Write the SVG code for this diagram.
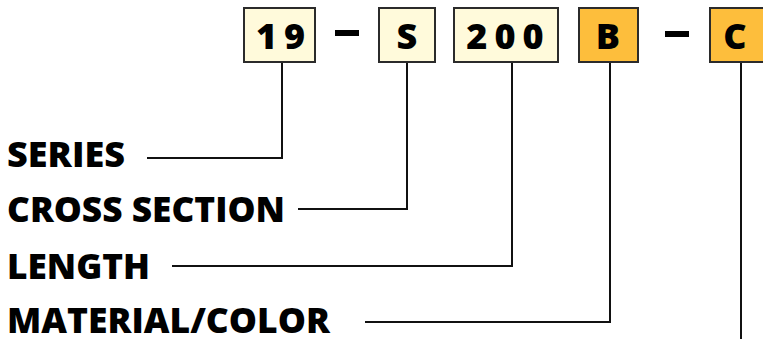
<svg xmlns="http://www.w3.org/2000/svg" width="763" height="339" viewBox="0 0 763 339">
<style>
.box{stroke:#2b2b2b;stroke-width:2}
.cream{fill:#FFFADB}
.orange{fill:#FDBE3C}
.bt{font-family:"Open Sans","DejaVu Sans",sans-serif;font-weight:800;font-size:36px;fill:#000;text-anchor:middle}
.lbl{font-family:"Open Sans","DejaVu Sans",sans-serif;font-weight:800;font-size:35px;fill:#000}
.ln{fill:none;stroke:#111;stroke-width:2}
.dash{fill:#000}
</style>
<rect width="763" height="339" fill="#fff"/>
<g id="connectors">
<polyline class="ln" points="282,62 282,158 147,158"/>
<polyline class="ln" points="407,62 407,209 298,209"/>
<polyline class="ln" points="512,62 512,266 172,266"/>
<polyline class="ln" points="610,62 610,322 365,322"/>
<polyline class="ln" points="741,62 741,339"/>
</g>
<g id="node-19">
<rect class="box cream" x="244" y="8" width="71" height="54"/>
<text class="bt" x="280.5" y="49" letter-spacing="7" dx="3.5">19</text>
</g>
<g id="dash-1"><rect class="dash" x="335" y="30" width="24" height="6"/></g>
<g id="node-S">
<rect class="box cream" x="379" y="8" width="56" height="54"/>
<text class="bt" x="407" y="49">S</text>
</g>
<g id="node-200">
<rect class="box cream" x="454" y="8" width="104" height="54"/>
<text class="bt" x="505" y="49" letter-spacing="7" dx="3.5">200</text>
</g>
<g id="node-B">
<rect class="box orange" x="579" y="8" width="59" height="54"/>
<text class="bt" x="608" y="49">B</text>
</g>
<g id="dash-2"><rect class="dash" x="665" y="31" width="24" height="6"/></g>
<g id="node-C">
<rect class="box orange" x="710" y="8" width="62" height="54"/>
<text class="bt" x="735" y="49">C</text>
</g>
<g id="label-series"><text class="lbl" x="7" y="167" textLength="118" lengthAdjust="spacingAndGlyphs">SERIES</text></g>
<g id="label-cross"><text class="lbl" x="7" y="222" font-size="39" textLength="278" lengthAdjust="spacingAndGlyphs">CROSS SECTION</text></g>
<g id="label-length"><text class="lbl" x="7" y="279" textLength="143" lengthAdjust="spacingAndGlyphs">LENGTH</text></g>
<g id="label-material"><text class="lbl" x="7" y="333" textLength="323" lengthAdjust="spacingAndGlyphs">MATERIAL/COLOR</text></g>
</svg>
